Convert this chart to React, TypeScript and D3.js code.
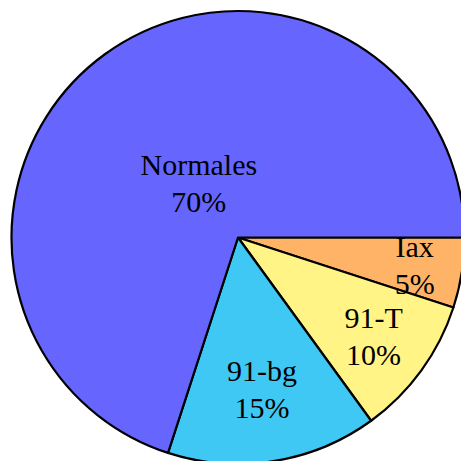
import React from "react";
import * as d3 from "d3";

const labels = ["Iax", "91-T", "91-bg", "Normales"];
const values = [5, 10, 15, 70];
const colors = ["#FFB366", "#FFF485", "#40C8F4", "#6666FF"];
const labelRadiusFrac = [0.79, 0.74, 0.68, 0.294];

export default function App() {
  const W = 461, H = 461;
  const cx = 238, cy = 237.5, r = 226.5;
  const pie = d3
    .pie<number>()
    .sort(null)
    .value((d) => d)
    .startAngle(Math.PI / 2)
    .endAngle(Math.PI / 2 + 2 * Math.PI);
  const arcs = pie(values);
  const arc = d3.arc<d3.PieArcDatum<number>>().innerRadius(0).outerRadius(r);
  return (
    <svg
      width={W}
      height={H}
      style={{ position: "absolute", left: 0, top: 0, background: "#fff" }}
    >
      <g transform={`translate(${cx},${cy})`}>
        {arcs.map((a, i) => (
          <path
            key={i}
            d={arc(a) || ""}
            fill={colors[i]}
            stroke="#000"
            strokeWidth={2.2}
            strokeLinejoin="round"
          />
        ))}
        {arcs.map((a, i) => {
          const mid = (a.startAngle + a.endAngle) / 2;
          const rr = r * labelRadiusFrac[i];
          const x = rr * Math.sin(mid);
          const y = -rr * Math.cos(mid);
          return (
            <text
              key={"t" + i}
              x={x}
              y={y - 8.5}
              textAnchor="middle"
              fontFamily="'Liberation Serif', serif"
              fontSize={30}
              fill="#000"
            >
              <tspan x={x}>{labels[i]}</tspan>
              <tspan x={x} dy={37}>{values[i] + "%"}</tspan>
            </text>
          );
        })}
      </g>
    </svg>
  );
}
